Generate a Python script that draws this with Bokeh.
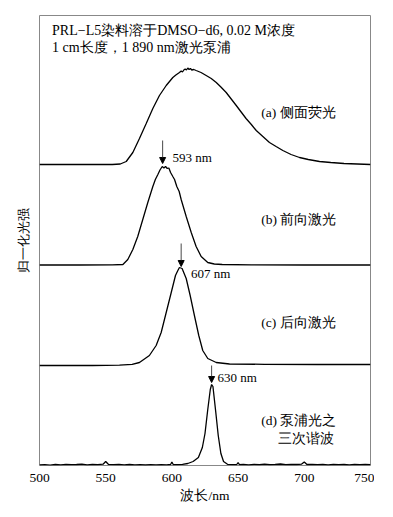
from bokeh.plotting import figure
from bokeh.models import Arrow, NormalHead, FixedTicker, Range1d
from bokeh.core.properties import value
from bokeh.embed import file_html
from bokeh.resources import INLINE

# ---- data (wavelength nm, normalized intensity) ----
wl_a = [500, 520, 540, 555, 561, 565.5, 570.5, 575.5, 580.6, 585.6, 590.6, 595.7, 600.7,
        603, 605.7, 607, 608, 609, 610, 611, 612, 613, 614, 615, 616.5, 618.3, 622, 625.9,
        629.7, 633.5, 637, 641, 644.8, 648.6, 652.3, 656, 660, 663.7, 668.7, 673.7, 678.7,
        683.8, 690, 696.4, 703, 711.5, 720, 730, 740, 750]
int_a = [0.01, 0.01, 0.01, 0.01, 0.015, 0.04, 0.13, 0.27, 0.42, 0.57, 0.70, 0.80, 0.88,
         0.905, 0.93, 0.945, 0.935, 0.955, 0.965, 0.955, 0.975, 0.96, 0.97, 0.955, 0.96, 0.95,
         0.93, 0.90, 0.87, 0.83, 0.785, 0.73, 0.665, 0.60, 0.535, 0.47, 0.41, 0.35, 0.29,
         0.23, 0.19, 0.15, 0.11, 0.08, 0.06, 0.04, 0.03, 0.02, 0.015, 0.01]

wl_b = [500, 530, 555, 563, 566.7, 570.5, 574.2, 578, 581.8, 585.6, 587.5, 589.4, 591, 592.7,
        594, 595.2, 596.5, 597.7, 599, 600.7, 602, 603.7, 605.5, 607, 610.8, 614.6, 618.3,
        622.1, 627.1, 632, 638, 660, 700, 750]
int_b = [0.005, 0.005, 0.006, 0.01, 0.06, 0.16, 0.29, 0.46, 0.63, 0.79, 0.86, 0.91, 0.955, 0.99,
         0.975, 0.99, 0.97, 0.975, 0.93, 0.89, 0.86, 0.79, 0.74, 0.66, 0.49, 0.33, 0.19,
         0.09, 0.03, 0.015, 0.01, 0.006, 0.005, 0.005]

wl_c = [500, 540, 560.4, 570, 575.5, 583, 588.1, 591.9, 595.7, 599.5, 602.7, 604.5, 605.7,
        607.7, 610.8, 613.8, 617, 620.3, 623.3, 627.1, 633.5, 643.5, 670, 710, 750]
int_c = [0.0, 0.0, 0.003, 0.012, 0.03, 0.10, 0.20, 0.33, 0.53, 0.73, 0.90, 0.95, 0.98,
         0.97, 0.87, 0.70, 0.50, 0.30, 0.15, 0.07, 0.03, 0.015, 0.012, 0.01, 0.01]

wl_d = [500, 504, 508, 512, 516, 520, 524, 528, 532, 536, 540, 544, 548, 550, 552, 556, 560,
        564, 568, 572, 576, 580, 584, 588, 592, 596, 599, 600, 601, 604, 608, 612, 616, 620,
        623, 625, 627, 629, 630, 631, 633, 635, 637, 639, 642, 646, 649, 650, 651, 654, 658,
        662, 666, 670, 674, 678, 682, 686, 690, 694, 698, 700, 702, 706, 710, 714, 718, 722,
        726, 730, 734, 738, 742, 746, 750]
int_d = [0.005, 0.008, 0.004, 0.01, 0.006, 0.012, 0.008, 0.01, 0.014, 0.007, 0.011, 0.009,
         0.013, 0.04, 0.012, 0.008, 0.011, 0.007, 0.01, 0.006, 0.009, 0.005, 0.008, 0.006,
         0.009, 0.007, 0.01, 0.035, 0.01, 0.008, 0.012, 0.02, 0.04, 0.08, 0.18, 0.32, 0.55,
         0.76, 0.81, 0.79, 0.55, 0.30, 0.12, 0.04, 0.012, 0.008, 0.01, 0.03, 0.009, 0.011,
         0.007, 0.012, 0.008, 0.013, 0.009, 0.011, 0.015, 0.008, 0.012, 0.01, 0.014, 0.035,
         0.01, 0.012, 0.008, 0.011, 0.007, 0.012, 0.009, 0.01, 0.006, 0.011, 0.008, 0.01, 0.009]

offsets = [3, 2, 1, 0]
curve_labels = ["(a) 侧面荧光", "(b) 前向激光", "(c) 后向激光", "(d) 泵浦光之"]
peak_wl = [593, 607, 630]
peak_labels = ["593 nm", "607 nm", "630 nm"]
x_ticks = [500, 550, 600, 650, 700, 750]

FONT = "Liberation Serif"

p = figure(frame_width=331, frame_height=450, output_backend="svg", toolbar_location=None,
           x_range=Range1d(500, 750), y_range=Range1d(0, 4.5),
           min_border_left=39, min_border_right=4, min_border_top=15, min_border_bottom=38)
p.grid.visible = False
p.outline_line_color = "#888888"
p.outline_line_width = 1
p.background_fill_color = "white"

for wl, it, off in zip([wl_a, wl_b, wl_c, wl_d], [int_a, int_b, int_c, int_d], offsets):
    p.line([w for w in wl], [v + off for v in it], line_color="black", line_width=1.3)

# x axis
p.xaxis.ticker = FixedTicker(ticks=x_ticks)
p.xaxis.axis_line_color = None
p.xaxis.major_tick_line_color = None
p.xaxis.minor_tick_line_color = None
p.xaxis.major_label_text_font = FONT
p.xaxis.major_label_text_font_size = "13.5px"
p.xaxis.major_label_text_color = "black"
p.xaxis.major_label_standoff = 2
p.xaxis.axis_label = "波长/nm"
p.xaxis.axis_label_text_font = FONT
p.xaxis.axis_label_text_font_size = "13.5px"
p.xaxis.axis_label_text_font_style = "normal"
p.xaxis.axis_label_text_color = "black"
p.xaxis.axis_label_standoff = 3

# y axis
p.yaxis.ticker = FixedTicker(ticks=[])
p.yaxis.axis_line_color = None
p.yaxis.major_tick_line_color = None
p.yaxis.minor_tick_line_color = None
p.yaxis.axis_label = "归一化光强"
p.yaxis.axis_label_text_font = FONT
p.yaxis.axis_label_text_font_size = "13px"
p.yaxis.axis_label_text_font_style = "normal"
p.yaxis.axis_label_text_color = "black"
p.yaxis.axis_label_standoff = 9

# header text
p.text(x=[509.5, 509.5], y=[4.35, 4.18],
       text=["PRL−L5染料溶于DMSO−d6, 0.02 M浓度", "1 cm长度，1 890 nm激光泵浦"],
       text_font=value(FONT), text_font_size="14px", text_baseline="middle",
       text_align="left", text_color="black")

# curve labels
p.text(x=[667.5] * 4, y=[3.53, 2.46, 1.43, 0.45], text=curve_labels,
       text_font=value(FONT), text_font_size="13.5px", text_baseline="middle",
       text_align="left", text_color="black")
p.text(x=[722.5], y=[0.27], text=["三次谐波"], text_font=value(FONT),
       text_font_size="13.5px", text_baseline="middle", text_align="right", text_color="black")

# peak arrows
arrow_top = [3.25, 2.22, 1.0]
arrow_tip = [3.02, 1.99, 0.83]
for wl, y0, y1 in zip(peak_wl, arrow_top, arrow_tip):
    p.add_layout(Arrow(x_start=wl, y_start=y0, x_end=wl, y_end=y1,
                       line_color="#333333", line_width=0.9,
                       end=NormalHead(size=6, fill_color="black", line_color="black")))
p.text(x=[600.5, 614.5, 634.5], y=[3.08, 1.92, 0.88], text=peak_labels,
       text_font=value(FONT), text_font_size="13px", text_baseline="middle",
       text_align="left", text_color="black")

open("out.html", "w").write(file_html(p, INLINE))
